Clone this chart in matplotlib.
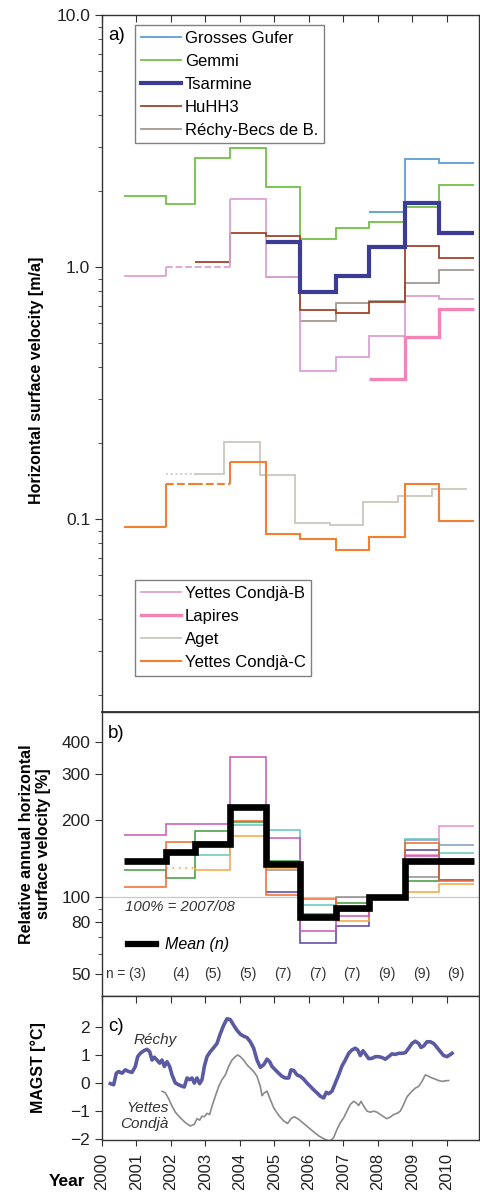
import numpy as np
import matplotlib
matplotlib.use("Agg")
import matplotlib.pyplot as plt
from matplotlib.lines import Line2D
from matplotlib.ticker import NullFormatter, FixedLocator

plt.rcParams['font.family'] = ['Liberation Sans', 'DejaVu Sans']
plt.rcParams['font.size'] = 12

# ---- data ----------------------------------------------------------
years = list(range(2000, 2011))
edges = [2000.65, 2001.86, 2002.70, 2003.71, 2004.74, 2005.74,
         2006.77, 2007.73, 2008.78, 2009.76, 2010.77]

# panel a: horizontal surface velocity [m/a], (first interval index, values)
gufer = (7, [1.65, 2.68, 2.59])
gemmi = (0, [1.91, 1.78, 2.71, 2.96, 2.08, 1.29, 1.43, 1.51, 1.73, 2.11])
tsarmine = (4, [1.26, 0.796, 0.92, 1.20, 1.79, 1.36])
huhh3 = (2, [1.05, 1.36, 1.33, 0.676, 0.656, 0.726, 1.21, 1.09])
rechy = (4, [0.91, 0.61, 0.72, 0.73, 0.865, 0.97])
yettes_b = (0, [0.92, 1.0, 1.0, 1.86, 0.91, 0.386, 0.44, 0.53, 0.77, 0.746])
lapires = (7, [0.36, 0.527, 0.68])
yettes_c = (0, [0.093, 0.138, 0.138, 0.168, 0.087, 0.083, 0.075, 0.085, 0.138, 0.098])
aget_edges = [2001.86, 2002.67, 2003.53, 2004.58, 2005.60, 2006.60,
              2007.57, 2008.58, 2009.57, 2010.58]
aget_vals = [0.151, 0.151, 0.202, 0.150, 0.096, 0.095, 0.117, 0.123, 0.131]

# panel b: relative velocity [%] (100% = 2007/08)
rel_gemmi = (0, [127, 119, 181, 196, 138, 86, 95, 100, 115, 140])
rel_yc = (0, [109, 163, 163, 198, 102, 98, 88, 100, 162, 115])
rel_aget = (1, [130, 127, 173, 128, 82, 81, 100, 105, 112])
rel_tsar = (4, [105, 66, 77, 100, 153, 116])
rel_huhh3 = (2, [146, 190, 182, 93, 90, 100, 168, 148])
rel_rechy = (4, [127, 85, 100, 100, 120, 135])
rel_yb = (0, [174, 192, 192, 350, 170, 74, 84, 100, 145, 141])
rel_lap = (7, [100, 146, 189])
rel_gufer = (7, [100, 166, 160])
rel_mean = [138, 150, 161, 224, 134, 83.6, 91, 100, 138, 138]
n_counts = ['(3)', '(4)', '(5)', '(5)', '(7)', '(7)', '(7)', '(9)', '(9)', '(9)']

# panel c: MAGST [°C]
rechy_t = [2000.242, 2000.338, 2000.415, 2000.483, 2000.580, 2000.676, 2000.773, 2000.870,
           2000.966, 2001.034, 2001.111, 2001.208, 2001.304, 2001.382, 2001.449, 2001.517,
           2001.594, 2001.671, 2001.739, 2001.807, 2001.884, 2001.961, 2002.029, 2002.126,
           2002.271, 2002.386, 2002.464, 2002.541, 2002.609, 2002.676, 2002.754, 2002.831,
           2002.899, 2002.966, 2003.043, 2003.140, 2003.237, 2003.333, 2003.430, 2003.527,
           2003.623, 2003.720, 2003.816, 2003.913, 2004.010, 2004.106, 2004.203, 2004.300,
           2004.396, 2004.493, 2004.589, 2004.686, 2004.783, 2004.860, 2004.928, 2005.024,
           2005.121, 2005.217, 2005.314, 2005.411, 2005.478, 2005.556, 2005.652, 2005.749,
           2005.845, 2005.942, 2006.039, 2006.135, 2006.232, 2006.329, 2006.425, 2006.502,
           2006.570, 2006.667, 2006.763, 2006.860, 2006.957, 2007.053, 2007.150, 2007.246,
           2007.343, 2007.411, 2007.488, 2007.565, 2007.633, 2007.729, 2007.826, 2007.923,
           2008.019, 2008.116, 2008.213, 2008.309, 2008.406, 2008.502, 2008.599, 2008.696,
           2008.792, 2008.889, 2008.986, 2009.082, 2009.179, 2009.246, 2009.324, 2009.420,
           2009.517, 2009.614, 2009.710, 2009.807, 2009.903, 2010.000, 2010.077, 2010.145]
rechy_v = [-0.02, -0.06, 0.35, 0.41, 0.35, 0.47, 0.41, 0.38,
           0.59, 0.94, 1.06, 1.15, 1.20, 1.12, 0.82, 0.92,
           0.82, 0.71, 0.82, 0.59, 0.76, 0.59, 0.29, 0.00,
           -0.09, -0.14, 0.18, 0.12, 0.18, 0.00, 0.18, -0.02,
           0.12, 0.59, 0.94, 1.12, 1.26, 1.41, 1.76, 2.06,
           2.29, 2.26, 2.06, 1.88, 1.74, 1.67, 1.62, 1.47,
           1.24, 0.82, 0.56, 0.65, 0.85, 0.76, 0.59, 0.47,
           0.35, 0.24, 0.18, 0.18, 0.47, 0.45, 0.29, 0.24,
           0.14, 0.00, -0.12, -0.24, -0.35, -0.47, -0.53, -0.33,
           -0.38, -0.29, 0.00, 0.29, 0.61, 0.82, 1.06, 1.18,
           1.24, 1.18, 0.98, 1.15, 1.04, 0.87, 0.88, 0.94,
           0.94, 0.91, 0.85, 0.94, 1.04, 1.02, 1.06, 1.06,
           1.08, 1.24, 1.41, 1.49, 1.41, 1.27, 1.32, 1.47,
           1.47, 1.41, 1.27, 1.12, 0.98, 0.94, 1.00, 1.06]
yettes_t = [2001.739, 2001.836, 2001.932, 2002.029, 2002.126, 2002.271, 2002.415, 2002.560,
            2002.676, 2002.754, 2002.831, 2002.899, 2002.966, 2003.043, 2003.121, 2003.188,
            2003.285, 2003.382, 2003.478, 2003.575, 2003.671, 2003.768, 2003.865, 2003.932,
            2004.010, 2004.106, 2004.203, 2004.300, 2004.396, 2004.493, 2004.589, 2004.638,
            2004.705, 2004.783, 2004.879, 2004.976, 2005.121, 2005.266, 2005.382, 2005.478,
            2005.575, 2005.700, 2005.845, 2005.990, 2006.135, 2006.280, 2006.425, 2006.570,
            2006.638, 2006.715, 2006.812, 2006.908, 2007.005, 2007.101, 2007.198, 2007.295,
            2007.372, 2007.440, 2007.507, 2007.585, 2007.681, 2007.778, 2007.874, 2007.971,
            2008.068, 2008.164, 2008.261, 2008.357, 2008.454, 2008.551, 2008.647, 2008.744,
            2008.841, 2008.986, 2009.082, 2009.179, 2009.275, 2009.372, 2009.469, 2009.565,
            2009.662, 2009.758, 2009.855, 2009.952, 2010.048]
yettes_v = [-0.29, -0.35, -0.56, -0.82, -1.04, -1.24, -1.41, -1.53,
            -1.47, -1.27, -1.32, -1.18, -1.20, -1.08, -1.12, -0.82,
            -0.47, -0.12, 0.12, 0.29, 0.59, 0.82, 0.94, 1.00,
            0.94, 0.82, 0.65, 0.53, 0.41, 0.24, -0.12, -0.45,
            -0.35, -0.29, -0.59, -0.88, -1.15, -1.35, -1.44, -1.27,
            -1.20, -1.29, -1.44, -1.59, -1.74, -1.88, -1.98, -2.06,
            -2.04, -1.94, -1.65, -1.41, -1.24, -1.00, -0.76, -0.65,
            -0.71, -0.80, -0.65, -0.82, -1.00, -1.04, -1.00, -1.04,
            -1.12, -1.20, -1.27, -1.21, -1.12, -1.08, -1.00, -0.76,
            -0.49, -0.29, -0.18, -0.12, 0.06, 0.29, 0.24, 0.18,
            0.14, 0.09, 0.06, 0.08, 0.09]


def steps(ax, series, color, lw, broken=(), ls='--', e=edges):
    start, vals = series
    vals = np.array(vals, float)
    ed = np.array(e[start:start + len(vals) + 1])
    solid = vals.copy()
    solid[list(broken)] = np.nan
    ax.stairs(solid, ed, color=color, lw=lw, baseline=None)
    for i in broken:
        ax.stairs([vals[i]], ed[i:i + 2], color=color, lw=lw, ls=ls, baseline=None)
        if i > 0 and i - 1 not in broken:
            ax.vlines(ed[i], vals[i - 1], vals[i], color=color, lw=lw)
        if i < len(vals) - 1 and i + 1 not in broken:
            ax.vlines(ed[i + 1], vals[i], vals[i + 1], color=color, lw=lw)


fig = plt.figure(figsize=(4.8, 11.92), dpi=100)
L, W = 0.2125, 0.7845
ax_a = fig.add_axes([L, 0.4027, W, 0.5847])
ax_b = fig.add_axes([L, 0.1644, W, 0.2383])
ax_c = fig.add_axes([L, 0.0436, W, 0.1208])
xmax = 2010.915
spine_col = '#333333'
for ax in (ax_a, ax_b, ax_c):
    ax.set_xlim(2000, xmax)
    for s in ax.spines.values():
        s.set_color(spine_col)
        s.set_linewidth(1.0)
    ax.tick_params(axis='y', which='major', direction='out', length=5, colors=spine_col,
                   labelcolor='#222222', labelsize=12.5)
    ax.tick_params(axis='y', which='minor', direction='out', length=3, colors=spine_col)
    ax.set_xticks(years)
    ax.tick_params(axis='x', bottom=False, labelbottom=False)

# ---- panel a -------------------------------------------------------
c_gufer, c_gemmi, c_tsar, c_huhh = '#5b9fd3', '#72c046', '#3c3c96', '#a4432a'
c_rechy, c_yb, c_lap, c_aget, c_yc = '#a29a94', '#dca0d6', '#f584b6', '#cac7bd', '#f28030'

steps(ax_a, gemmi, c_gemmi, 1.3)
steps(ax_a, gufer, c_gufer, 1.3)
steps(ax_a, rechy, c_rechy, 1.3)
steps(ax_a, yettes_b, c_yb, 1.3, broken=(1, 2))
steps(ax_a, huhh3, c_huhh, 1.3)
steps(ax_a, lapires, c_lap, 2.4)
steps(ax_a, tsarmine, c_tsar, 3.0)
steps(ax_a, (0, aget_vals), c_aget, 1.3, broken=(0,), ls=':', e=aget_edges)
steps(ax_a, yettes_c, c_yc, 1.5, broken=(1, 2))

ax_a.set_yscale('log')
ax_a.set_ylim(0.01714, 10)
ax_a.set_yticks([0.1, 1, 10])
ax_a.set_yticklabels(['0.1', '1.0', '10.0'])
ax_a.yaxis.set_minor_formatter(NullFormatter())
ax_a.spines['bottom'].set_linewidth(1.3)
top_a = ax_a.secondary_xaxis('top')
top_a.set_xticks(years)
top_a.tick_params(direction='in', length=5, labeltop=False, colors=spine_col)
top_a.spines['top'].set_visible(False)

leg_kw = dict(loc='upper left', borderaxespad=0, fontsize=12, handlelength=2.4,
              handletextpad=0.25, labelspacing=0.48, borderpad=0.35, fancybox=False,
              edgecolor='#808080', framealpha=1)
h1 = [Line2D([], [], color=c_gufer, lw=1.3), Line2D([], [], color=c_gemmi, lw=1.3),
      Line2D([], [], color=c_tsar, lw=3.0), Line2D([], [], color=c_huhh, lw=1.3),
      Line2D([], [], color=c_rechy, lw=1.3)]
leg1 = ax_a.legend(h1, ['Grosses Gufer', 'Gemmi', 'Tsarmine', 'HuHH3', 'Réchy-Becs de B.'],
                   bbox_to_anchor=(0.087, 0.986), **leg_kw)
leg1.get_frame().set_linewidth(1.0)
ax_a.add_artist(leg1)
h2 = [Line2D([], [], color=c_yb, lw=1.3), Line2D([], [], color=c_lap, lw=2.4),
      Line2D([], [], color=c_aget, lw=1.3), Line2D([], [], color=c_yc, lw=1.5)]
leg2 = ax_a.legend(h2, ['Yettes Condjà-B', 'Lapires', 'Aget', 'Yettes Condjà-C'],
                   bbox_to_anchor=(0.087, 0.189), **leg_kw)
leg2.get_frame().set_linewidth(1.0)
ax_a.text(0.016, 0.971, 'a)', transform=ax_a.transAxes, fontsize=13.5, va='center')

# ---- panel b -------------------------------------------------------
ax_b.set_yscale('log')
ax_b.set_ylim(41.2, 524.6)
ax_b.axhline(100, color='#c8c8c8', lw=0.9, zorder=0)
steps(ax_b, rel_gufer, '#7f9cc8', 1.1)
steps(ax_b, rel_rechy, '#8e8e8e', 1.1)
steps(ax_b, rel_huhh3, '#62c6bc', 1.1)
steps(ax_b, rel_gemmi, '#3e9a3e', 1.1)
steps(ax_b, rel_lap, '#f08cc6', 1.1)
steps(ax_b, rel_tsar, '#5142a2', 1.1)
steps(ax_b, rel_aget, '#f6a440', 1.1, broken=(0,), ls=(0, (1.2, 3)))
steps(ax_b, rel_yc, '#f06a2a', 1.1)
steps(ax_b, rel_yb, '#c656b6', 1.1)
mean_line = ax_b.stairs(rel_mean, edges, color='black', lw=4.8, baseline=None)

ax_b.yaxis.set_major_locator(FixedLocator([50, 80, 100, 200, 300, 400]))
ax_b.set_yticklabels(['50', '80', '100', '200', '300', '400'])
ax_b.yaxis.set_minor_locator(FixedLocator([60, 70, 90]))
ax_b.yaxis.set_minor_formatter(NullFormatter())

ax_b.text(0.016, 0.926, 'b)', transform=ax_b.transAxes, fontsize=13.5, va='center')
ax_b.text(2000.67, 91.5, '100% = 2007/08', style='italic', fontsize=10.8,
          va='center', color='#333333')
ax_b.legend([Line2D([], [], color='black', lw=4.5)], ['Mean (n)'], loc='center left',
            bbox_to_anchor=(0.03, 0.18), frameon=False, handlelength=1.8,
            handletextpad=0.55, prop={'style': 'italic', 'size': 11.5})
centers = [(edges[i] + edges[i + 1]) / 2 for i in range(1, 10)]
ax_b.text(2000.12, 50, 'n = ' + n_counts[0], fontsize=9.8, va='center', ha='left',
          color='#333333')
for xc, lab in zip(centers, n_counts[1:]):
    ax_b.text(xc, 50, lab, fontsize=10.2, va='center', ha='center', color='#333333')

# ---- panel c -------------------------------------------------------
ax_c.plot(yettes_t, yettes_v, color='#8a8a8a', lw=1.2)
ax_c.plot(rechy_t, rechy_v, color='#5a5aa2', lw=2.6)
ax_c.set_ylim(-2.03, 3.1)
ax_c.set_yticks([-2, -1, 0, 1, 2])
ax_c.set_xticks(years)
ax_c.tick_params(axis='x', bottom=True, labelbottom=True, direction='out', length=4,
                 pad=5, colors=spine_col, labelcolor='#222222', labelsize=12,
                 labelrotation=90)
top_c = ax_c.secondary_xaxis('top')
top_c.set_xticks(years)
top_c.tick_params(direction='in', length=5, labeltop=False, colors=spine_col)
top_c.spines['top'].set_visible(False)
ax_c.text(0.016, 0.785, 'c)', transform=ax_c.transAxes, fontsize=13.5, va='center')
ax_c.text(2001.54, 1.55, 'Réchy', style='italic', fontsize=11, ha='center', va='center',
          color='#333333')
ax_c.text(2001.93, -1.17, 'Yettes\nCondjà', style='italic', fontsize=11, ha='right',
          va='center', color='#333333', linespacing=1.25)

# ---- axis titles ---------------------------------------------------
fig.text(0.077, 0.681, 'Horizontal surface velocity [m/a]', rotation=90, ha='center',
         va='center', fontsize=11.5, fontweight='bold')
fig.text(0.073, 0.292, 'Relative annual horizontal\nsurface velocity [%]', rotation=90,
         ha='center', va='center', fontsize=11.5, fontweight='bold', linespacing=1.2)
fig.text(0.079, 0.104, 'MAGST [°C]', rotation=90, ha='center', va='center',
         fontsize=11.5, fontweight='bold')
fig.text(0.14, 0.009, 'Year', ha='center', va='center', fontsize=12.5, fontweight='bold')

fig.savefig('out.png', dpi=100)
